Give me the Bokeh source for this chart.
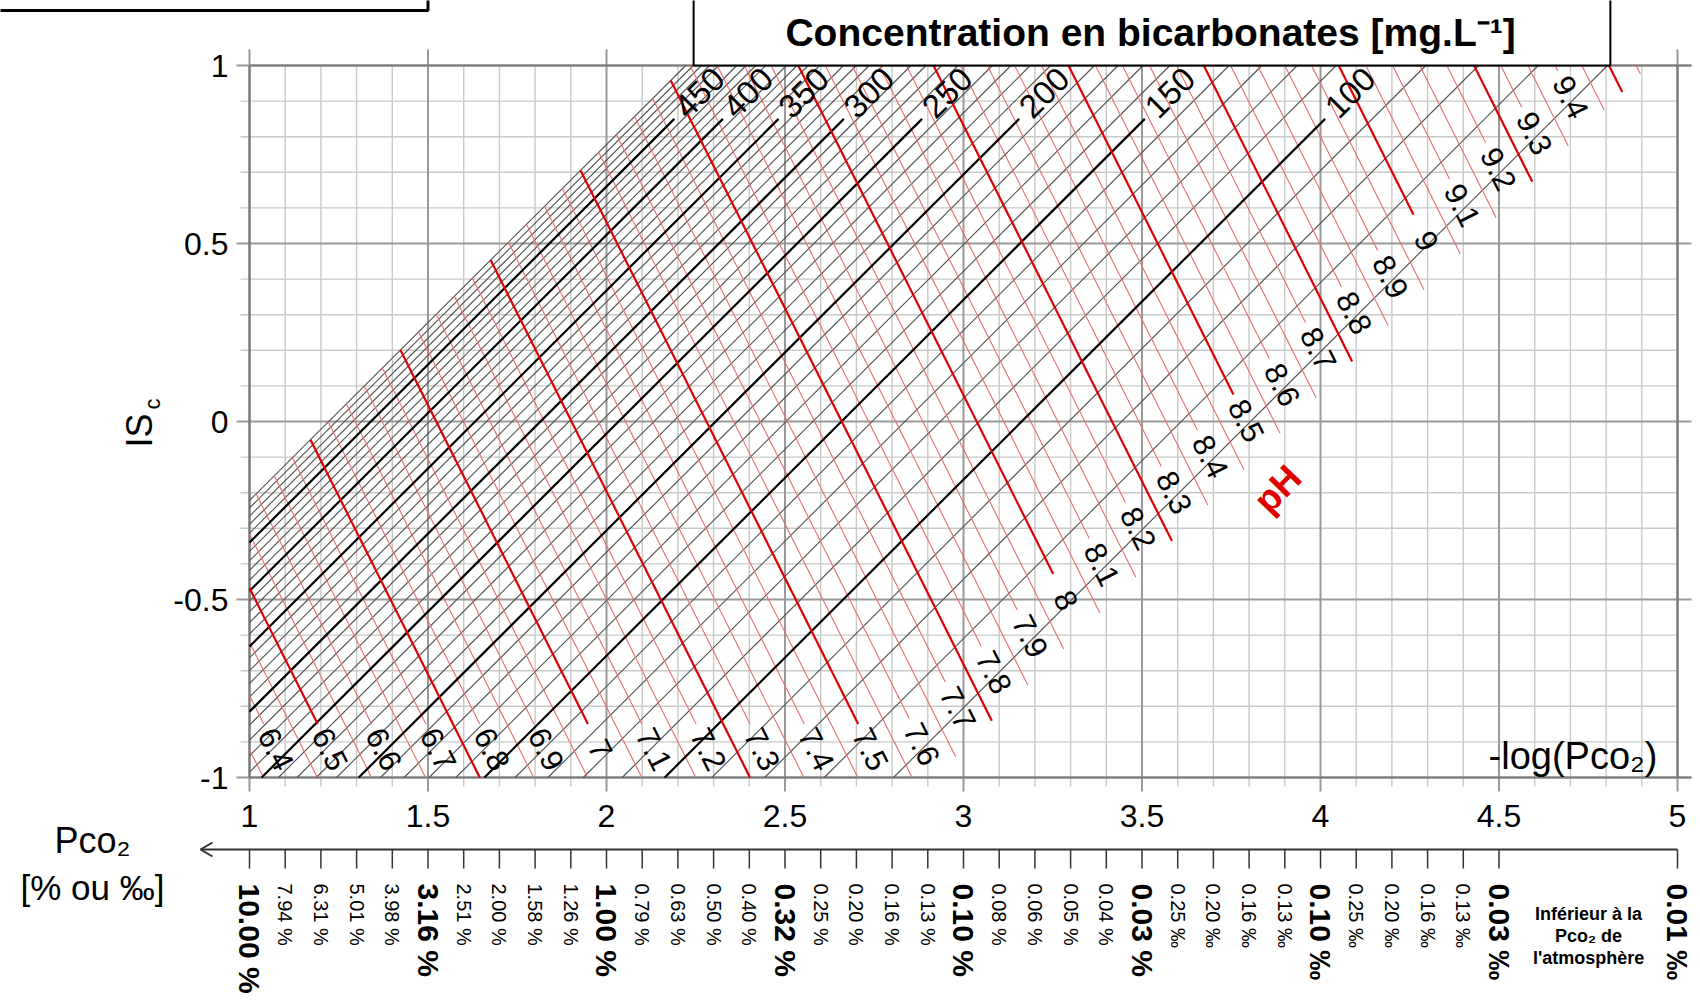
import math
from bokeh.plotting import figure
from bokeh.embed import file_html
from bokeh.resources import INLINE
from bokeh.core.properties import value

# ---------------- data ----------------
# bicarbonate lines (mg/L) and the -log(Pco2) value where each crosses ISc = 0
hco3_conc = [60, 70, 80, 90, 100, 110, 120, 130, 140, 150, 160, 170, 180, 190, 200,
             210, 220, 230, 240, 250, 260, 270, 280, 290, 300, 310, 320, 330, 340, 350,
             360, 370, 380, 390, 400, 410, 420, 430, 440, 450, 460, 470, 480, 490, 500]
hco3_x_at_is0 = [3.804, 3.610, 3.443, 3.295, 3.163, 3.044, 2.935, 2.836, 2.744, 2.658,
                 2.578, 2.503, 2.433, 2.367, 2.306, 2.244, 2.187, 2.133, 2.081, 2.034,
                 1.985, 1.939, 1.895, 1.853, 1.815, 1.774, 1.736, 1.700, 1.664, 1.632,
                 1.597, 1.565, 1.534, 1.504, 1.476, 1.446, 1.418, 1.391, 1.365, 1.340,
                 1.314, 1.289, 1.266, 1.243, 1.222]
hco3_labelled = [100, 150, 200, 250, 300, 350, 400, 450]

# pH lines and the -log(Pco2) value where each crosses ISc = 0
ph_levels = [6.30, 6.35, 6.40, 6.45, 6.50, 6.55, 6.60, 6.65, 6.70, 6.75, 6.80, 6.85,
             6.90, 6.95, 7.00, 7.05, 7.10, 7.15, 7.20, 7.25, 7.30, 7.35, 7.40, 7.45,
             7.50, 7.55, 7.60, 7.65, 7.70, 7.75, 7.80, 7.85, 7.90, 7.95, 8.00, 8.05,
             8.10, 8.15, 8.20, 8.25, 8.30, 8.35, 8.40, 8.45, 8.50, 8.55, 8.60, 8.65,
             8.70, 8.75, 8.80, 8.85, 8.90, 8.95, 9.00, 9.05, 9.10, 9.15, 9.20, 9.25,
             9.30, 9.35, 9.40, 9.45, 9.50, 9.55]
ph_x_at_is0 = [0.463, 0.539, 0.615, 0.690, 0.766, 0.842, 0.917, 0.993, 1.069, 1.145,
               1.220, 1.296, 1.372, 1.447, 1.523, 1.599, 1.674, 1.750, 1.826, 1.902,
               1.977, 2.053, 2.129, 2.204, 2.280, 2.356, 2.431, 2.507, 2.583, 2.659,
               2.734, 2.810, 2.886, 2.961, 3.037, 3.113, 3.188, 3.264, 3.340, 3.416,
               3.491, 3.567, 3.643, 3.718, 3.794, 3.870, 3.945, 4.021, 4.097, 4.173,
               4.248, 4.324, 4.400, 4.475, 4.551, 4.627, 4.702, 4.778, 4.854, 4.930,
               5.005, 5.081, 5.157, 5.232, 5.308, 5.384]
ph_label_levels = [6.4, 6.5, 6.6, 6.7, 6.8, 6.9, 7.0, 7.1, 7.2, 7.3, 7.4, 7.5, 7.6,
                   7.7, 7.8, 7.9, 8.0, 8.1, 8.2, 8.3, 8.4, 8.5, 8.6, 8.7, 8.8, 8.9,
                   9.0, 9.1, 9.2, 9.3, 9.4]
ph_label_text = ["6.4", "6.5", "6.6", "6.7", "6.8", "6.9", "7", "7.1", "7.2", "7.3",
                 "7.4", "7.5", "7.6", "7.7", "7.8", "7.9", "8", "8.1", "8.2", "8.3",
                 "8.4", "8.5", "8.6", "8.7", "8.8", "8.9", "9", "9.1", "9.2", "9.3", "9.4"]

x_ticks = [1, 1.5, 2, 2.5, 3, 3.5, 4, 4.5, 5]
x_tick_labels = ["1", "1.5", "2", "2.5", "3", "3.5", "4", "4.5", "5"]
y_ticks = [-1, -0.5, 0, 0.5, 1]
y_tick_labels = ["-1", "-0.5", "0", "0.5", "1"]

pco2_pos = [1.0, 1.1, 1.2, 1.3, 1.4, 1.5, 1.6, 1.7, 1.8, 1.9, 2.0, 2.1, 2.2, 2.3, 2.4,
            2.5, 2.6, 2.7, 2.8, 2.9, 3.0, 3.1, 3.2, 3.3, 3.4, 3.5, 3.6, 3.7, 3.8, 3.9,
            4.0, 4.1, 4.2, 4.3, 4.4, 4.5, 5.0]
pco2_text = ["10.00 %", "7.94 %", "6.31 %", "5.01 %", "3.98 %", "3.16 %", "2.51 %",
             "2.00 %", "1.58 %", "1.26 %", "1.00 %", "0.79 %", "0.63 %", "0.50 %",
             "0.40 %", "0.32 %", "0.25 %", "0.20 %", "0.16 %", "0.13 %", "0.10 %",
             "0.08 %", "0.06 %", "0.05 %", "0.04 %", "0.03 %", "0.25 ‰", "0.20 ‰",
             "0.16 ‰", "0.13 ‰", "0.10 ‰", "0.25 ‰", "0.20 ‰", "0.16 ‰", "0.13 ‰",
             "0.03 ‰", "0.01 ‰"]
pco2_bold = [True, False, False, False, False, True, False, False, False, False,
             True, False, False, False, False, True, False, False, False, False,
             True, False, False, False, False, True, False, False, False, False,
             True, False, False, False, False, True, True]

# ---------------- figure ----------------
XPX, YPX = 357.0, 356.0          # pixels per data unit
W, H = 1700, 1005
x_start = 1 - 249 / XPX
y_end = 1 + 65 / YPX
p = figure(width=W, height=H, x_range=(x_start, x_start + W / XPX),
           y_range=(y_end - H / YPX, y_end), x_axis_type=None, y_axis_type=None,
           toolbar_location=None, output_backend="svg", min_border=0,
           outline_line_color=None, background_fill_color="white",
           border_fill_color="white")

NARROW = "Liberation Sans Narrow, Liberation Sans, sans-serif"
REG = "Liberation Sans, Arial, sans-serif"


def dx(px):
    return px / XPX


def dy(px):
    return px / YPX


def txt(x, y, s, size, angle=0.0, align="center", baseline="middle",
        color="black", style="normal", font=NARROW):
    p.text(x=[x], y=[y], text=[s], angle=angle, text_align=align,
           text_baseline=baseline, text_color=color, text_font_size=f"{size}px",
           text_font_style=style, text_font=value(font))


# ---- grid ----
gx = [round(1 + 0.1 * i, 2) for i in range(41)]
gy = [round(-1 + 0.1 * i, 2) for i in range(21)]
mn = dict(x0=[], y0=[], x1=[], y1=[])
mj = dict(x0=[], y0=[], x1=[], y1=[])
for v in gx:
    major = abs(v * 2 - round(v * 2)) < 1e-6
    d = mj if major else mn
    d["x0"].append(v); d["x1"].append(v)
    d["y0"].append(-1 - dy(14 if major else 9))
    d["y1"].append(1 + dy(16) if major else 1)
for v in gy:
    major = abs(v * 2 - round(v * 2)) < 1e-6
    d = mj if major else mn
    d["y0"].append(v); d["y1"].append(v)
    d["x0"].append(1 - dx(13 if major else 9))
    d["x1"].append(5 + dx(14) if major else 5)
p.segment(**mn, line_color="#c9c9c9", line_width=1.4)
p.segment(**mj, line_color="#9a9a9a", line_width=2)
p.segment(x0=[1, 5, 1, 1], y0=[-1, -1, -1, 1], x1=[1, 5, 5 + dx(14), 5 + dx(14)],
          y1=[1, 1, -1, 1], line_color="#7a7a7a", line_width=2.2)

# ---- bicarbonate lines (slope +1) ----
thin_x, thin_y, thick_x, thick_y = [], [], [], []
for c, x0 in zip(hco3_conc, hco3_x_at_is0):
    lab = c in hco3_labelled
    y_lo = max(-1.0, 1 - x0)
    y_hi = 0.85 if lab else 1.0
    xs = [x0 + y_lo, x0 + y_hi]
    ys = [y_lo, y_hi]
    if lab:
        thick_x.append(xs); thick_y.append(ys)
    else:
        thin_x.append(xs); thin_y.append(ys)
p.multi_line(xs=thin_x, ys=thin_y, line_color="#555555", line_width=1.15)

# ---- pH lines (slope -2) ----
b1 = hco3_x_at_is0[-1]     # upper-left limit (500 mg/L line)
b2 = 3.92                   # lower-right limit of the pH network
lab_set = set(round(v * 10) for v in ph_label_levels)
rt_x, rt_y, rk_x, rk_y = [], [], [], []
for ph, p0 in zip(ph_levels, ph_x_at_is0):
    k100 = round(ph * 100)
    is_lab = (k100 % 10 == 0) and (round(ph * 10) in lab_set)
    is_thick = k100 % 25 == 0
    y_hi = min(1.0, (p0 - b1) / 1.5, 2 * (p0 - 1))
    if is_lab:
        y_lo = max(-0.85, (p0 - 3.68) / 1.5)
    else:
        y_lo = max(-1.0, (p0 - b2) / 1.5)
    if y_lo >= y_hi:
        continue
    xs = [p0 - y_lo / 2, p0 - y_hi / 2]
    ys = [y_lo, y_hi]
    if is_thick:
        rk_x.append(xs); rk_y.append(ys)
    else:
        rt_x.append(xs); rt_y.append(ys)
p.multi_line(xs=rt_x, ys=rt_y, line_color="#ec6b6b", line_width=1.1)
p.multi_line(xs=thick_x, ys=thick_y, line_color="black", line_width=2.2)
p.multi_line(xs=rk_x, ys=rk_y, line_color="#e00000", line_width=2.2)

# ---- labels on the network ----
ph_map = dict(zip([round(v * 100) for v in ph_levels], ph_x_at_is0))
for lv, s in zip(ph_label_levels, ph_label_text):
    p0 = ph_map[round(lv * 100)]
    xd = (3.79 + 2 * p0) / 3
    yd = xd - 3.79
    if yd < -0.92:
        yd = -0.92
        xd = p0 - yd / 2
    txt(xd, yd, s, 31, angle=-math.atan(2), font=REG)

hmap = dict(zip(hco3_conc, hco3_x_at_is0))
for c in hco3_labelled:
    x0 = hmap[c]
    txt(x0 + 0.85 + 0.07, 0.924, str(c), 33, angle=math.pi / 4, font=REG)

txt(3.88, -0.19, "pH", 37, angle=math.radians(46), color="#e00000",
    style="bold", font=REG)

# ---- axes text ----
for v, s in zip(y_ticks, y_tick_labels):
    txt(1 - dx(21), v, s, 32, align="right")
for v, s in zip(x_ticks, x_tick_labels):
    txt(v, -1 - dy(38), s, 32)
txt(1 - dx(110), -0.073, "IS", 36, angle=math.pi / 2, align="left")
txt(1 - dx(97), 0.034, "c", 22, angle=math.pi / 2, align="left")
txt(4.944, -0.94, "-log(Pco₂)", 38, align="right")

# ---- Pco2 axis ----
ya = -1 - dy(72)
p.segment(x0=[5, 1 - dx(49), 1 - dx(49)], y0=[ya, ya, ya],
          x1=[1 - dx(49), 1 - dx(37), 1 - dx(37)], y1=[ya, ya + dy(7), ya - dy(7)],
          line_color="#333333", line_width=2)
p.segment(x0=pco2_pos, y0=[ya] * len(pco2_pos), x1=pco2_pos,
          y1=[ya - dy(19)] * len(pco2_pos), line_color="#333333", line_width=1.5)
for v, s, b in zip(pco2_pos, pco2_text, pco2_bold):
    txt(v, ya - dy(34), s, 30 if b else 20, angle=-math.pi / 2, align="left",
        style="bold" if b else "normal", font=REG)
txt(1 - dx(157), -1 - dy(63), "Pco₂", 36, font=REG)
txt(1 - dx(157), -1 - dy(110), "[% ou ‰]", 35, font=REG)
for i, s in enumerate(["Inférieur à la", "Pco₂ de", "l'atmosphère"]):
    txt(4.751, -1 - dy(136 + 22 * i), s, 18, style="bold")

# ---- boxes ----
p.quad(left=[x_start - 1], right=[1.5], bottom=[1 + dy(55)], top=[y_end + 1],
       fill_color="white", line_color="black", line_width=3)
p.quad(left=[2.244], right=[4.812], bottom=[1], top=[y_end + 1],
       fill_color="white", line_color="black", line_width=2)
txt(3.524, 1 + dy(33), "Concentration en bicarbonates [mg.L⁻¹]", 39, style="bold")

open("out.html", "w").write(file_html(p, INLINE))
